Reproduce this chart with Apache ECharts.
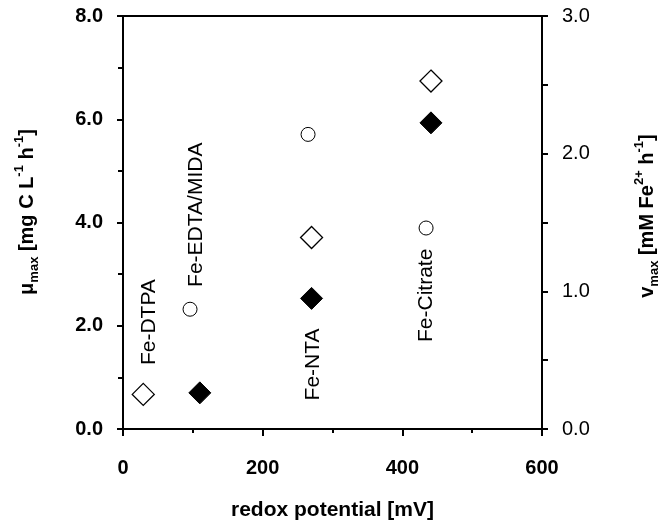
<!DOCTYPE html>
<html>
<head>
<meta charset="utf-8">
<script src="https://cdn.jsdelivr.net/npm/echarts@6/dist/echarts.min.js"></script>
<style>html,body{margin:0;padding:0;background:#fff}#c{width:658px;height:527px}</style>
</head>
<body>
<div id="c"></div>
<script>
// redox potential [mV] and values
const openDiamondX = [29, 270, 441];
const openDiamondY = [0.67, 3.71, 6.74];      // left axis (µmax)
const filledDiamondX = [110, 270, 441];
const filledDiamondY = [0.70, 2.53, 5.93];    // left axis (µmax)
const circleX = [96, 265, 434];
const circleY = [0.87, 2.14, 1.46];           // right axis (vmax)
const labelNames = ['Fe-DTPA', 'Fe-EDTA/MIDA', 'Fe-NTA', 'Fe-Citrate'];
const labelX = [37, 105, 272, 434.5];
const labelY = [2.07, 4.15, 1.25, 2.59];
const xTicks = [0, 200, 400, 600];
const leftTicks = [0, 2, 4, 6, 8];
const rightTicks = [0, 1, 2, 3];

const FONT = '"Liberation Sans", Arial, sans-serif';
const zip = (a, b) => a.map((v, i) => [v, b[i]]);

const chart = echarts.init(document.getElementById('c'), null, {renderer: 'canvas'});
chart.setOption({
  animation: false,
  backgroundColor: '#fff',
  grid: {left: 123, right: 116, top: 16, bottom: 98, show: true, borderColor: '#000', borderWidth: 2, backgroundColor: 'transparent'},
  xAxis: {
    type: 'value', min: xTicks[0], max: xTicks[xTicks.length - 1], interval: 200,
    splitLine: {show: false},
    axisLine: {show: true, lineStyle: {color: '#000', width: 2}},
    axisTick: {show: true, inside: false, length: 7, lineStyle: {color: '#000', width: 2}},
    minorTick: {show: true, splitNumber: 2, length: 4, lineStyle: {color: '#000', width: 2}},
    axisLabel: {margin: 29, color: '#000', fontFamily: FONT, fontSize: 20, fontWeight: 'bold'},
    name: 'redox potential [mV]', nameLocation: 'middle', nameGap: 71,
    nameTextStyle: {color: '#000', fontFamily: FONT, fontSize: 21, fontWeight: 'bold'}
  },
  yAxis: [{
    type: 'value', min: 0, max: 8, interval: 2, position: 'left',
    splitLine: {show: false},
    axisLine: {show: true, onZero: false, lineStyle: {color: '#000', width: 2}},
    axisTick: {show: true, length: 6, lineStyle: {color: '#000', width: 2}},
    minorTick: {show: true, splitNumber: 2, length: 5, lineStyle: {color: '#000', width: 2}},
    axisLabel: {margin: 20, color: '#000', fontFamily: FONT, fontSize: 20, fontWeight: 'bold',
      formatter: v => v.toFixed(1)}
  }, {
    type: 'value', min: 0, max: 3, interval: 1, position: 'right',
    splitLine: {show: false},
    axisLine: {show: true, onZero: false, lineStyle: {color: '#000', width: 2}},
    axisTick: {show: true, length: 6, lineStyle: {color: '#000', width: 2}},
    minorTick: {show: true, splitNumber: 2, length: 6, lineStyle: {color: '#000', width: 2}},
    axisLabel: {margin: 20, color: '#000', fontFamily: FONT, fontSize: 20,
      formatter: v => v.toFixed(1)}
  }],
  graphic: [{
    type: 'text', x: 27, y: 212, rotation: Math.PI / 2,
    style: {
      text: '{b|μ}{sub|max}{b| [mg C L}{sup|-1}{b| h}{sup|-1}{b|]}',
      align: 'center', verticalAlign: 'middle',
      rich: {
        b: {fontFamily: FONT, fontSize: 20, fontWeight: 'bold', fill: '#000', lineHeight: 28, verticalAlign: 'middle'},
        sub: {fontFamily: FONT, fontSize: 13, fontWeight: 'bold', fill: '#000', lineHeight: 28, verticalAlign: 'bottom'},
        sup: {fontFamily: FONT, fontSize: 13, fontWeight: 'bold', fill: '#000', lineHeight: 28, verticalAlign: 'top'}
      }
    }
  }, {
    type: 'text', x: 647, y: 216, rotation: Math.PI / 2,
    style: {
      text: '{b|v}{sub|max}{b| [mM Fe}{sup|2+}{b| h}{sup|-1}{b|]}',
      align: 'center', verticalAlign: 'middle',
      rich: {
        b: {fontFamily: FONT, fontSize: 20, fontWeight: 'bold', fill: '#000', lineHeight: 28, verticalAlign: 'middle'},
        sub: {fontFamily: FONT, fontSize: 13, fontWeight: 'bold', fill: '#000', lineHeight: 28, verticalAlign: 'bottom'},
        sup: {fontFamily: FONT, fontSize: 13, fontWeight: 'bold', fill: '#000', lineHeight: 28, verticalAlign: 'top'}
      }
    }
  }],
  series: [{
    type: 'scatter', yAxisIndex: 0, symbol: 'diamond', symbolSize: 22,
    itemStyle: {color: '#fff', borderColor: '#000', borderWidth: 1.3, opacity: 1},
    data: zip(openDiamondX, openDiamondY)
  }, {
    type: 'scatter', yAxisIndex: 0, symbol: 'diamond', symbolSize: 22,
    itemStyle: {color: '#000', borderColor: '#000', borderWidth: 1, opacity: 1},
    data: zip(filledDiamondX, filledDiamondY)
  }, {
    type: 'scatter', yAxisIndex: 1, symbol: 'circle', symbolSize: 14,
    itemStyle: {color: '#fff', borderColor: '#000', borderWidth: 1, opacity: 1},
    data: zip(circleX, circleY)
  }, {
    type: 'scatter', yAxisIndex: 0, symbolSize: 0, silent: true,
    itemStyle: {color: '#000', opacity: 1},
    label: {show: true, position: 'inside', rotate: 90, color: '#000', opacity: 1,
      textBorderWidth: 0, textShadowBlur: 0, fontFamily: FONT, fontSize: 21,
      formatter: p => p.name},
    data: labelNames.map((n, i) => ({name: n, value: [labelX[i], labelY[i]]}))
  }]
});
</script>
</body>
</html>
